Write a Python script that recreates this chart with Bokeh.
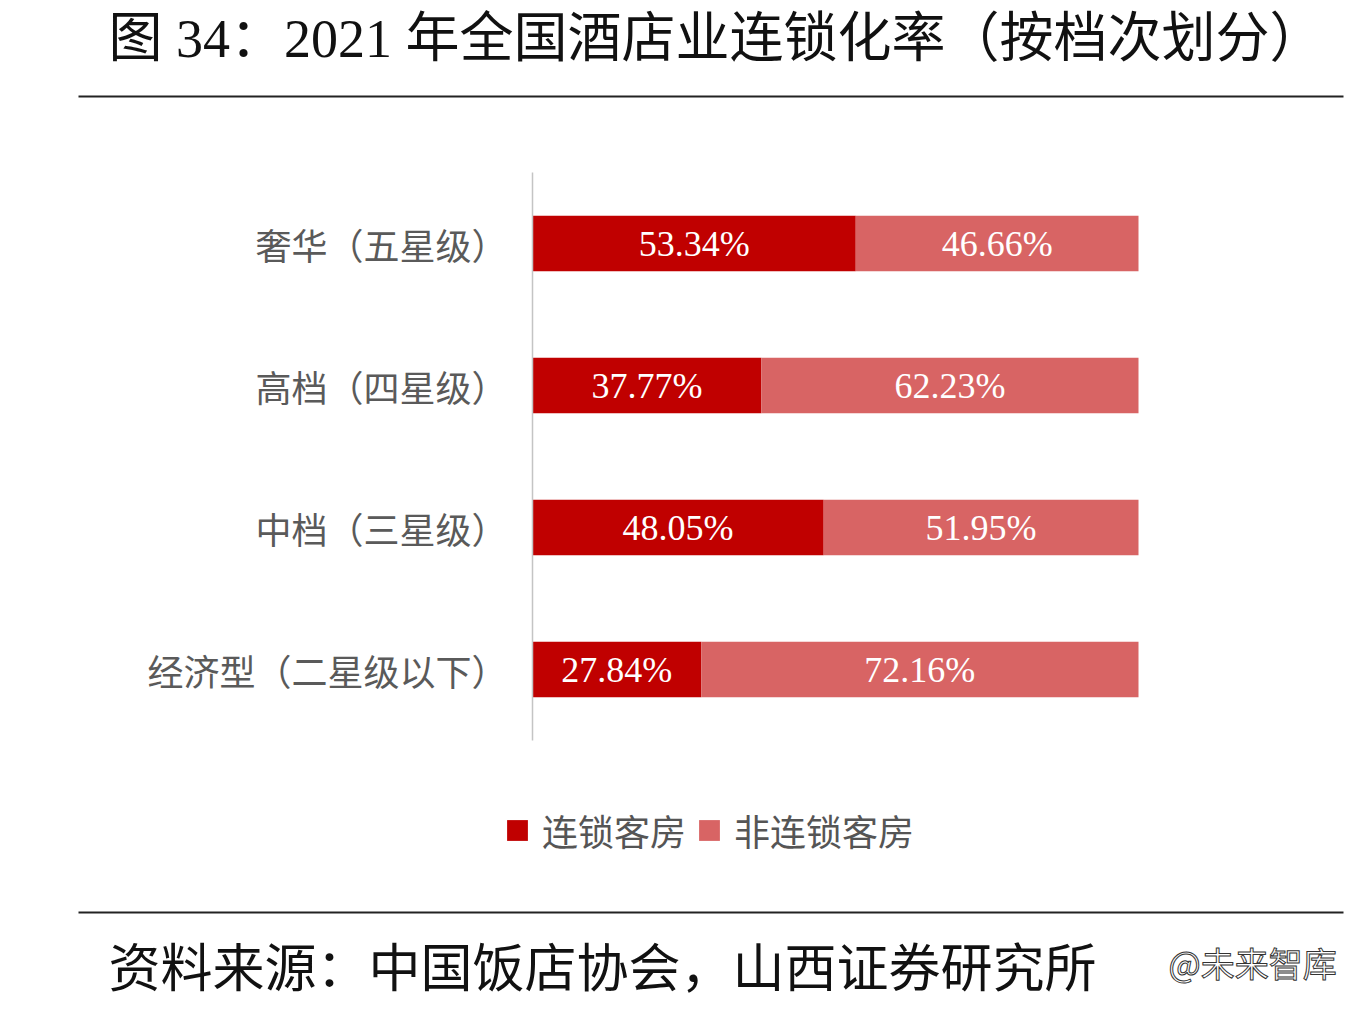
from bokeh.plotting import figure
from bokeh.models import (Label, BoxAnnotation, Legend, LegendItem,
                          ColumnDataSource, Range1d)
from bokeh.embed import file_html
from bokeh.resources import INLINE
from bokeh.core.properties import value

# ---------------- data ----------------
categories = ["奢华（五星级）", "高档（四星级）", "中档（三星级）", "经济型（二星级以下）"]
chain = [53.34, 37.77, 48.05, 27.84]
nonchain = [46.66, 62.23, 51.95, 72.16]
series_names = ["连锁客房", "非连锁客房"]
title_text = "图 34：2021 年全国酒店业连锁化率（按档次划分）"
source_text = "资料来源：中国饭店协会，山西证券研究所"
watermark_text = "@未来智库"

colors = ["#C00000", "#D86464"]

# ---------------- figure (frame covers the whole canvas) ----------------
W, H = 1364, 1004
# x: 0% at px 532, 100% at px 1138 ; y: row k centred at px 243 + 142k
PX_PER_PCT = 6.06
X0_PX = 532
ROW0_PX, ROW_PX = 243, 142
x_range = Range1d(-X0_PX / PX_PER_PCT, (W - X0_PX) / PX_PER_PCT)
y_range = Range1d((H - ROW0_PX) / ROW_PX, -ROW0_PX / ROW_PX)

p = figure(width=W, height=H, x_range=x_range, y_range=y_range,
           output_backend="svg", toolbar_location=None,
           min_border=0, min_border_left=0, min_border_right=0,
           min_border_top=0, min_border_bottom=0)
p.axis.visible = False
p.grid.visible = False
p.outline_line_color = None
p.background_fill_color = "white"
p.border_fill_color = "white"

idx = list(range(len(categories)))
src = ColumnDataSource(dict(
    y=idx,
    cat=categories,
    chain=chain,
    nonchain=nonchain,
    cmid=[c / 2 for c in chain],
    nmid=[c + n / 2 for c, n in zip(chain, nonchain)],
    ctxt=[f"{c:.2f}%" for c in chain],
    ntxt=[f"{n:.2f}%" for n in nonchain],
))

rs = p.hbar_stack(["chain", "nonchain"], y="y", height=0.39,
                  color=colors, line_color=None, source=src)

# category axis: line + labels
p.segment(x0=0, y0=-0.5, x1=0, y1=len(categories) - 0.5,
          line_color="#c4c4c4", line_width=1.5)
p.text(x=0, y="y", text="cat", source=src, x_offset=-25,
       text_font=value("Noto Sans CJK SC"), text_font_size="36px",
       text_color="#5a5a5a", text_align="right", text_baseline="middle")

for xcol, tcol in (("cmid", "ctxt"), ("nmid", "ntxt")):
    p.text(x=xcol, y="y", text=tcol, source=src,
           text_font=value("Liberation Serif"), text_font_size="36px",
           text_color="white", text_align="center", text_baseline="middle")

legend = Legend(items=[LegendItem(label=series_names[0], renderers=[rs[0]]),
                       LegendItem(label=series_names[1], renderers=[rs[1]])],
                orientation="horizontal", location=(504, H - 856),
                glyph_width=26, glyph_height=26,
                label_text_font="Noto Sans CJK SC", label_text_font_size="36px",
                label_text_color="#555555", label_standoff=12, spacing=10,
                padding=0, margin=0, border_line_color=None,
                background_fill_alpha=0)
p.add_layout(legend, "center")

# ---------------- title, rules, source ----------------
p.add_layout(Label(x=108, y=H - 38, x_units="screen", y_units="screen",
                   text=title_text, text_font="Liberation Serif, Noto Sans CJK SC",
                   text_font_size="54px", text_color="#111111",
                   text_baseline="middle", text_align="left"))

for py in (96, 912):
    p.add_layout(BoxAnnotation(left=78, right=1343, top=H - py + 1, bottom=H - py - 1,
                               left_units="screen", right_units="screen",
                               top_units="screen", bottom_units="screen",
                               fill_color="#222222", fill_alpha=1, line_color=None))

p.add_layout(Label(x=108, y=H - 964, x_units="screen", y_units="screen",
                   text=source_text, text_font="Noto Sans CJK SC",
                   text_font_size="52px", text_color="#111111",
                   text_baseline="middle", text_align="left"))

wm = Label(x=1168, y=H - 962, x_units="screen", y_units="screen",
           text=watermark_text, text_font="Noto Sans CJK SC",
           text_font_size="34px", text_color="#555555",
           text_baseline="middle", text_align="left")
try:
    wm.text_outline_color = "#333333"
    wm.text_color = "white"
except AttributeError:
    pass
p.add_layout(wm)

open("out.html", "w").write(file_html(p, INLINE))
